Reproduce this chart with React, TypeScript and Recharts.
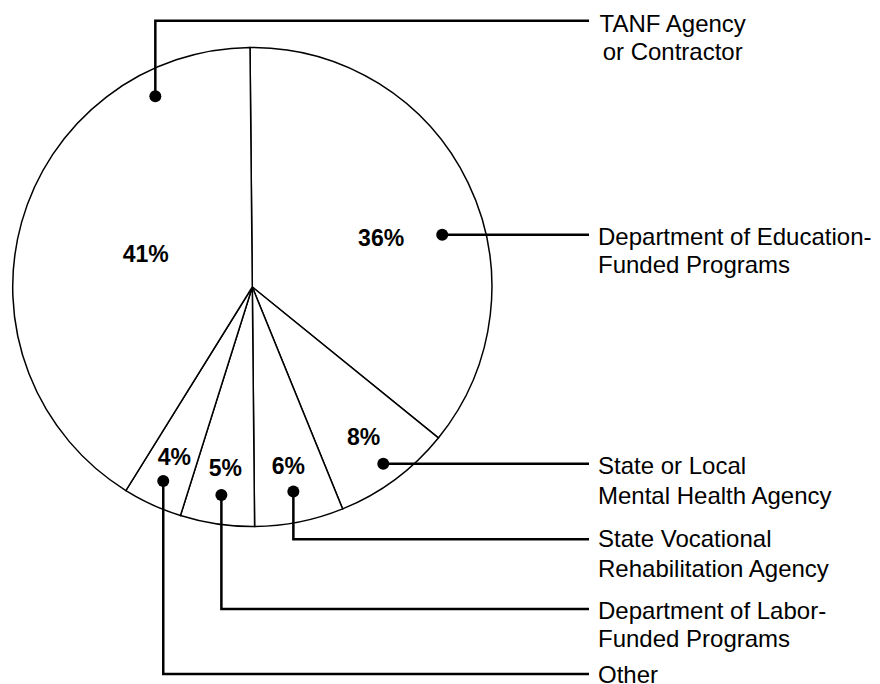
import { PieChart, Pie, Cell } from 'recharts';

const categories = [
  'Department of Education-Funded Programs',
  'State or Local Mental Health Agency',
  'State Vocational Rehabilitation Agency',
  'Department of Labor-Funded Programs',
  'Other',
  'TANF Agency or Contractor',
];
const shares = [36, 8, 6, 5, 4, 41];
const labelLines = [
  ['Department of Education-', 'Funded Programs'],
  ['State or Local', 'Mental Health Agency'],
  ['State Vocational', 'Rehabilitation Agency'],
  ['Department of Labor-', 'Funded Programs'],
  ['Other'],
  ['TANF Agency', 'or Contractor'],
];

// where each callout sits, per slice (same order as the data)
const callouts = [
  { route: 'right', pctR: 0.575, pctShift: -5, dotR: 0.822, dotShift: -10.4, rowY: 0, textX: 598, anchor: 'start', textY: [236, 264] },
  { route: 'right', pctR: 0.78, pctShift: 0, dotR: 0.918, dotShift: 0, rowY: 0, textX: 598, anchor: 'start', textY: [465, 495.5] },
  { route: 'down', pctR: 0.764, pctShift: 0, dotR: 0.871, dotShift: 0, rowY: 539.3, textX: 598, anchor: 'start', textY: [538.5, 568.7] },
  { route: 'down', pctR: 0.764, pctShift: 0, dotR: 0.878, dotShift: 0, rowY: 609, textX: 598, anchor: 'start', textY: [610.5, 638] },
  { route: 'down', pctR: 0.78, pctShift: 0, dotR: 0.891, dotShift: 0, rowY: 674, textX: 598, anchor: 'start', textY: [674] },
  { route: 'up', pctR: 0.466, pctShift: -1.6, dotR: 0.893, dotShift: -47.4, rowY: 20.7, textX: 672.7, anchor: 'middle', textY: [23, 51.7] },
];

const data = categories.map((name, i) => ({ name, value: shares[i] }));

const FONT = '"Liberation Sans", Arial, Helvetica, sans-serif';
const LINE_END = 589;
const RAD = Math.PI / 180;

function polar(cx: number, cy: number, r: number, angle: number) {
  return { x: cx + r * Math.cos(-angle * RAD), y: cy + r * Math.sin(-angle * RAD) };
}

function renderCallout(props: any) {
  const { cx, cy, midAngle, outerRadius, index, value } = props;
  const c = callouts[index];
  const pct = polar(cx, cy, outerRadius * c.pctR, midAngle + c.pctShift);
  const dot = polar(cx, cy, outerRadius * c.dotR, midAngle + c.dotShift);
  const path =
    c.route === 'right'
      ? `M${dot.x},${dot.y}H${LINE_END}`
      : `M${dot.x},${dot.y}V${c.rowY}H${LINE_END}`;
  return (
    <g key={`callout-${index}`}>
      <text
        x={pct.x}
        y={pct.y}
        textAnchor="middle"
        dominantBaseline="central"
        fontFamily={FONT}
        fontWeight="bold"
        fontSize={23}
        fill="#000"
      >
        {value}%
      </text>
      <path d={path} stroke="#000" strokeWidth={2.5} fill="none" />
      <circle cx={dot.x} cy={dot.y} r={6} fill="#000" />
      {labelLines[index].map((line, j) => (
        <text
          key={j}
          x={c.textX}
          y={c.textY[j]}
          textAnchor={c.anchor as any}
          dominantBaseline="central"
          fontFamily={FONT}
          fontSize={24}
          fill="#000"
        >
          {line}
        </text>
      ))}
    </g>
  );
}

export default function App() {
  return (
    <div style={{ position: 'absolute', left: 0, top: 0, background: '#fff' }}>
      <PieChart width={880} height={684} margin={{ top: 0, right: 0, bottom: 0, left: 0 }}>
        <Pie
          data={data}
          dataKey="value"
          nameKey="name"
          cx={252.3}
          cy={287}
          outerRadius={239.6}
          startAngle={90.55}
          endAngle={-269.45}
          stroke="#000"
          strokeWidth={1.5}
          label={renderCallout}
          labelLine={false}
          isAnimationActive={false}
        >
          {data.map((d) => (
            <Cell key={d.name} fill="#fff" />
          ))}
        </Pie>
      </PieChart>
    </div>
  );
}
